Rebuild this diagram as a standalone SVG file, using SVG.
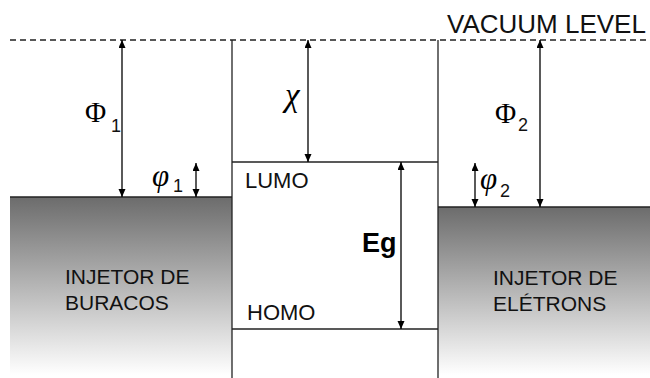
<svg xmlns="http://www.w3.org/2000/svg" width="650" height="378" viewBox="0 0 650 378">
  <defs>
    <linearGradient id="grad" x1="0" y1="0" x2="0" y2="1">
      <stop offset="0" stop-color="#6c6c6c"/>
      <stop offset="1" stop-color="#ffffff"/>
    </linearGradient>
    <marker id="ah" markerUnits="userSpaceOnUse" markerWidth="9" markerHeight="8" refX="8" refY="3.5" orient="auto-start-reverse">
      <path d="M0,0 L8,3.5 L0,7 z" fill="#000"/>
    </marker>
  </defs>
  <style>
    .lvl { stroke: #222; stroke-width: 1.3; fill: none; }
    .arr { stroke: #000; stroke-width: 1.3; fill: none; marker-start: url(#ah); marker-end: url(#ah); }
    .lbl { font-family: "Liberation Sans", Arial, sans-serif; font-size: 21px; fill: #111; }
    .sym { font-family: "Liberation Serif", "Times New Roman", serif; fill: #000; }
    .sub { font-family: "Liberation Sans", Arial, sans-serif; font-size: 18px; fill: #111; }
  </style>
  <rect width="650" height="378" fill="#fff"/>

  <g id="vacuum-level">
    <line x1="10" y1="40" x2="650" y2="40" stroke="#222" stroke-width="1.3" stroke-dasharray="6,4"/>
    <text x="447" y="33" class="lbl" style="font-size:26px">VACUUM LEVEL</text>
  </g>

  <g id="hole-injector">
    <rect x="10" y="197" width="222" height="178" fill="url(#grad)"/>
    <line x1="10" y1="197" x2="232" y2="197" class="lvl"/>
    <text x="65" y="284" class="lbl">INJETOR DE</text>
    <text x="65" y="310" class="lbl">BURACOS</text>
  </g>

  <g id="electron-injector">
    <rect x="438" y="207" width="212" height="168" fill="url(#grad)"/>
    <line x1="438" y1="207" x2="650" y2="207" class="lvl"/>
    <text x="493" y="285" class="lbl">INJETOR DE</text>
    <text x="493" y="311" class="lbl">ELÉTRONS</text>
  </g>

  <g id="organic-layer">
    <line x1="232" y1="40" x2="232" y2="378" class="lvl"/>
    <line x1="438" y1="40" x2="438" y2="378" class="lvl"/>
    <line x1="232" y1="162" x2="438" y2="162" class="lvl"/>
    <line x1="232" y1="329" x2="438" y2="329" class="lvl"/>
    <text x="245" y="188" class="lbl" style="font-size:22px">LUMO</text>
    <text x="247" y="320" class="lbl" style="font-size:22px">HOMO</text>
  </g>

  <g id="connectors">
    <line x1="122" y1="40" x2="122" y2="197" class="arr"/>
    <line x1="196" y1="163" x2="196" y2="197" class="arr"/>
    <line x1="308" y1="40" x2="308" y2="162" class="arr"/>
    <line x1="401" y1="162" x2="401" y2="329" class="arr"/>
    <line x1="475" y1="163" x2="475" y2="207" class="arr"/>
    <line x1="540" y1="40" x2="540" y2="207" class="arr"/>
  </g>

  <g id="labels">
    <text x="85" y="122" class="sym" font-size="29">Φ</text>
    <text x="111" y="132" class="sub">1</text>
    <text x="152" y="186" class="sym" font-size="31" font-style="italic">φ</text>
    <text x="173" y="192" class="sub">1</text>
    <text x="285" y="106" class="sym" font-size="33" font-style="italic">χ</text>
    <text x="362" y="252" class="lbl" style="font-size:27px;font-weight:bold;fill:#000">Eg</text>
    <text x="480" y="189" class="sym" font-size="31" font-style="italic">φ</text>
    <text x="500" y="197" class="sub">2</text>
    <text x="495" y="123" class="sym" font-size="29">Φ</text>
    <text x="518" y="131" class="sub">2</text>
  </g>
</svg>
